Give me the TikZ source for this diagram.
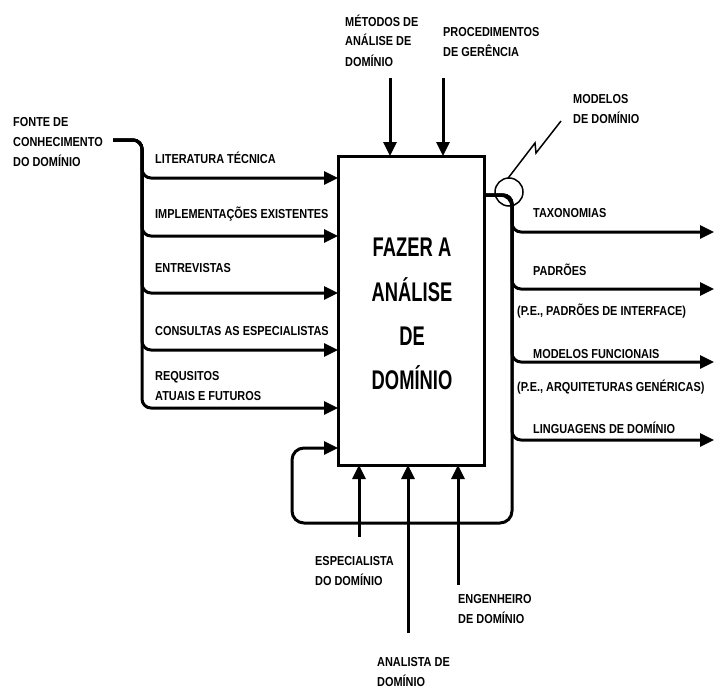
\documentclass[tikz,border=0pt]{standalone}
\usepackage{fontspec}
\usetikzlibrary{arrows.meta}
\newfontfamily\lab[FakeStretch=0.84]{Liberation Sans}
\newfontfamily\boxfnt[FakeStretch=0.68]{Liberation Sans}
\tikzset{
  lbl/.style={anchor=base west, inner sep=0pt, align=left,
    font={\lab\bfseries\fontsize{13}{20}\selectfont}},
  flow/.style={line width=3pt, rounded corners=9pt,
    -{Triangle[length=14pt,width=13pt]}},
  thin/.style={line width=1.5pt},
  procbox/.style={draw, line width=3pt, minimum width=146pt, minimum height=309pt,
    inner sep=0pt},
  boxtxt/.style={inner sep=0pt, align=center,
    font={\boxfnt\bfseries\fontsize{27}{44.3}\selectfont}}
}
\begin{document}
\begin{tikzpicture}[x=1pt,y=-1pt]
\useasboundingbox (0,0) rectangle (715,688);
\fill[white] (0,0) rectangle (715,688);

% main box
\node[procbox] (box) at (411,310.5) {};
\node[boxtxt] (boxtext) at (412,314) {FAZER A\\AN\'ALISE\\DE\\DOM\'INIO};

% labels (anchor = baseline of the last line)
\node[lbl] (fonte) at (13,166) {FONTE DE\\CONHECIMENTO\\DO DOM\'INIO};
\node[lbl] (lit) at (155,163) {LITERATURA T\'ECNICA};
\node[lbl] (impl) at (155,218) {IMPLEMENTA\c{C}\~OES EXISTENTES};
\node[lbl] (entr) at (155,272) {ENTREVISTAS};
\node[lbl] (cons) at (155,335) {CONSULTAS AS ESPECIALISTAS};
\node[lbl] (req) at (155,400) {REQUSITOS\\ATUAIS E FUTUROS};
\node[lbl] (met) at (345,66) {M\'ETODOS DE\\AN\'ALISE DE\\DOM\'INIO};
\node[lbl] (proc) at (443,56) {PROCEDIMENTOS\\DE GER\^ENCIA};
\node[lbl] (mod) at (573,123) {MODELOS\\DE DOM\'INIO};
\node[lbl] (tax) at (533,217) {TAXONOMIAS};
\node[lbl] (pad) at (533,275) {PADR\~OES};
\node[lbl] (padex) at (517,315) {(P.E., PADR\~OES DE INTERFACE)};
\node[lbl] (mf) at (533,358) {MODELOS FUNCIONAIS};
\node[lbl] (mfex) at (517,391) {(P.E., ARQUITETURAS GEN\'ERICAS)};
\node[lbl] (ling) at (533,433) {LINGUAGENS DE DOM\'INIO};
\node[lbl] (esp) at (315,585) {ESPECIALISTA\\DO DOM\'INIO};
\node[lbl] (eng) at (458,623) {ENGENHEIRO\\DE DOM\'INIO};
\node[lbl] (ana) at (377,686) {ANALISTA DE\\DOM\'INIO};

% coordinates
\coordinate (src) at (113,140);
\coordinate (tl) at (142,140);
\coordinate (in1) at (338,178);
\coordinate (in2) at (338,236);
\coordinate (in3) at (338,293);
\coordinate (in4) at (338,350);
\coordinate (in5) at (338,408);
\coordinate (c1s) at (390,78);
\coordinate (c1e) at (390,156);
\coordinate (c2s) at (443,78);
\coordinate (c2e) at (443,156);
\coordinate (outs) at (484,195);
\coordinate (tr) at (512,195);
\coordinate (o1) at (714,232);
\coordinate (o2) at (714,289);
\coordinate (o3) at (714,362);
\coordinate (o4) at (714,440);
\coordinate (fbin) at (338,448);
\coordinate (m1s) at (359,537);
\coordinate (m1e) at (359,465);
\coordinate (m2s) at (408,633);
\coordinate (m2e) at (408,465);
\coordinate (m3s) at (458,585);
\coordinate (m3e) at (458,465);

% inputs
\draw[flow] (src) -- (tl) -- (tl |- in1) -- (in1);
\draw[flow] (src) -- (tl) -- (tl |- in2) -- (in2);
\draw[flow] (src) -- (tl) -- (tl |- in3) -- (in3);
\draw[flow] (src) -- (tl) -- (tl |- in4) -- (in4);
\draw[flow] (src) -- (tl) -- (tl |- in5) -- (in5);

% controls
\draw[flow] (c1s) -- (c1e);
\draw[flow] (c2s) -- (c2e);

% outputs
\draw[flow] (outs) -- (tr) -- (tr |- o1) -- (o1);
\draw[flow] (outs) -- (tr) -- (tr |- o2) -- (o2);
\draw[flow] (outs) -- (tr) -- (tr |- o3) -- (o3);
\draw[flow] (outs) -- (tr) -- (tr |- o4) -- (o4);

% feedback
\draw[flow, rounded corners=12pt] (outs) -- (tr) -- (512,523) -- (292,523) -- (292,448) -- (fbin);

% mechanisms
\draw[flow] (m1s) -- (m1e);
\draw[flow] (m2s) -- (m2e);
\draw[flow] (m3s) -- (m3e);

% output bundle circle and squiggle
\node[draw, circle, thin, minimum size=28pt, inner sep=0pt] (ring) at (509,192) {};
\draw[thin] (ring.north) ++(-1,1) -- (535,143) -- (536,153) -- (561,121);
\end{tikzpicture}
\end{document}
